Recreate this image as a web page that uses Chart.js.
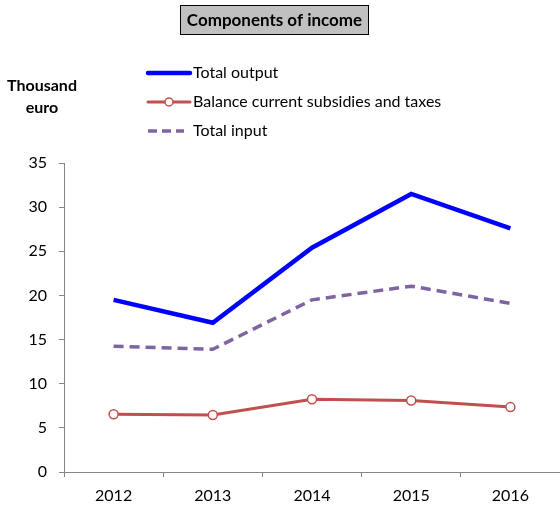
<!DOCTYPE html>
<html>
<head>
<meta charset="utf-8">
<script src="https://cdn.jsdelivr.net/npm/chart.js@4/dist/chart.umd.min.js"></script>
<style>
  html, body { margin: 0; padding: 0; background: #fff; }
  #wrap { width: 560px; height: 506px; position: relative; }
</style>
</head>
<body>
<div id="wrap"><canvas id="incomeChart"></canvas></div>
<script>
const years = ["2012", "2013", "2014", "2015", "2016"];
const totalOutput = [19.5, 16.9, 25.4, 31.5, 27.6];
const balanceSubsidiesTaxes = [6.55, 6.45, 8.25, 8.1, 7.35];
const totalInput = [14.25, 13.9, 19.5, 21.05, 19.1];
const yTicks = [0, 5, 10, 15, 20, 25, 30, 35];

const FONT = "Lato, 'Open Sans', sans-serif";
const axisGrey = "#868686";

// title box, unit label and the legend are painted by hand
const decorations = {
    id: "decorations",
    afterDraw(chart) {
        const c = chart.ctx;
        c.save();

        // title in a grey box
        c.fillStyle = "#c0c0c0";
        c.fillRect(180.5, 5.5, 188, 29);
        c.strokeStyle = "#000";
        c.lineWidth = 1;
        c.strokeRect(180.5, 5.5, 188, 29);
        c.fillStyle = "#000";
        c.font = "bold 17px " + FONT;
        c.textAlign = "center";
        c.textBaseline = "middle";
        c.fillText("Components of income", 274.5, 20.5);

        // unit label
        c.font = "bold 16px " + FONT;
        c.fillText("Thousand", 42, 86);
        c.fillText("euro", 42, 108);

        // legend
        const x0 = 148, x1 = 190, tx = 193;
        const rows = [73, 102, 131];
        c.textAlign = "left";
        c.font = "16px " + FONT;
        c.lineCap = "round";

        c.strokeStyle = "#0000ff";
        c.lineWidth = 4.5;
        c.beginPath(); c.moveTo(x0, rows[0]); c.lineTo(x1, rows[0]); c.stroke();

        c.strokeStyle = "#c0504d";
        c.lineWidth = 3;
        c.beginPath(); c.moveTo(x0, rows[1]); c.lineTo(x1, rows[1]); c.stroke();
        c.fillStyle = "#fff";
        c.lineWidth = 1.5;
        c.beginPath(); c.arc(169, rows[1], 4, 0, Math.PI * 2); c.fill(); c.stroke();

        c.strokeStyle = "#8064a2";
        c.lineWidth = 3.5;
        c.lineCap = "butt";
        c.setLineDash([9, 5]);
        c.beginPath(); c.moveTo(x0, rows[2]); c.lineTo(x1 - 6, rows[2]); c.stroke();
        c.setLineDash([]);

        c.fillStyle = "#000";
        c.fillText("Total output", tx, rows[0]);
        c.fillText("Balance current subsidies and taxes", tx, rows[1]);
        c.fillText("Total input", tx, rows[2]);

        c.restore();
    }
};

new Chart(document.getElementById("incomeChart"), {
    type: "line",
    data: {
        labels: years,
        datasets: [
            {
                label: "Total output",
                data: totalOutput,
                borderColor: "#0000ff",
                borderWidth: 4.5,
                pointRadius: 0,
                tension: 0
            },
            {
                label: "Balance current subsidies and taxes",
                data: balanceSubsidiesTaxes,
                borderColor: "#c0504d",
                borderWidth: 3,
                pointRadius: 4.5,
                pointBackgroundColor: "#fff",
                pointBorderColor: "#c0504d",
                pointBorderWidth: 1.5,
                tension: 0
            },
            {
                label: "Total input",
                data: totalInput,
                borderColor: "#8064a2",
                borderWidth: 3.5,
                borderDash: [10, 6],
                pointRadius: 0,
                tension: 0
            }
        ]
    },
    options: {
        responsive: true,
        maintainAspectRatio: false,
        animation: false,
        layout: {
            autoPadding: false,
            padding: { top: 163, left: 0, right: 0, bottom: 0 }
        },
        plugins: {
            legend: { display: false },
            tooltip: { enabled: false }
        },
        scales: {
            x: {
                offset: true,
                border: { color: axisGrey, width: 1 },
                grid: {
                    offset: true,
                    drawOnChartArea: false,
                    drawTicks: true,
                    tickLength: 5,
                    color: axisGrey
                },
                ticks: { color: "#000", font: { family: FONT, size: 16 }, padding: 9 },
                afterFit(scale) {
                    scale.height = 34;
                    scale.paddingLeft = 0;
                    scale.paddingRight = 0;
                }
            },
            y: {
                min: 0,
                max: 35,
                afterBuildTicks(scale) { scale.ticks = yTicks.map(v => ({ value: v })); },
                border: { color: axisGrey, width: 1 },
                grid: {
                    drawOnChartArea: false,
                    drawTicks: true,
                    tickLength: 5,
                    color: axisGrey
                },
                ticks: { color: "#000", font: { family: FONT, size: 16 }, padding: 12 },
                afterFit(scale) { scale.width = 64; }
            }
        }
    },
    plugins: [decorations]
});
</script>
</body>
</html>
